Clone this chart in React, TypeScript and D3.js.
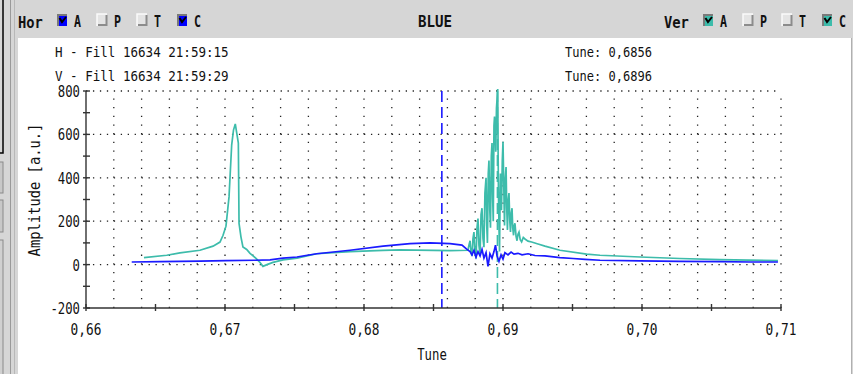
import * as d3 from "d3";

// tune / amplitude pairs
const hScan: [number, number][] = [
  [0.66329, 12], [0.66532, 14], [0.6682, 16], [0.67007, 18], [0.67216, 20],
  [0.67324, 22], [0.67417, 30], [0.67518, 35], [0.6766, 50], [0.67899, 66],
  [0.68137, 85], [0.68331, 97], [0.68475, 100], [0.68619, 97], [0.68705, 90],
  [0.68741, 70], [0.68763, 60], [0.68777, 45], [0.68791, 65], [0.68806, 35],
  [0.6882, 60], [0.68835, 40], [0.68849, 70], [0.68863, 30], [0.68878, 55],
  [0.68892, -8], [0.68906, 50], [0.68921, 30], [0.68935, 60], [0.68946, 90],
  [0.68957, 40], [0.68971, 15], [0.68986, 45], [0.69, 25], [0.69014, 55],
  [0.69036, 45], [0.69058, 58], [0.69079, 48], [0.69108, 52], [0.69137, 45],
  [0.6918, 50], [0.6923, 42], [0.69302, 40], [0.6941, 32], [0.69504, 28],
  [0.6959, 24], [0.69698, 20], [0.69986, 17], [0.70273, 15], [0.70561, 14],
  [0.70777, 12], [0.70978, 12],
];

const vScan: [number, number][] = [
  [0.66417, 32], [0.66581, 43], [0.66676, 54], [0.6682, 66], [0.66914, 85],
  [0.66964, 104], [0.66986, 135], [0.67007, 177], [0.67014, 220], [0.67029, 312],
  [0.67048, 551], [0.67061, 620], [0.67074, 648], [0.67086, 600], [0.67096, 560],
  [0.67101, 190], [0.67115, 127], [0.67129, 81], [0.67156, 70], [0.6718, 52],
  [0.67223, 29], [0.67252, 10], [0.67273, -8], [0.67302, 0], [0.67345, 10],
  [0.67417, 22], [0.67518, 30], [0.6766, 50], [0.67899, 60], [0.68137, 66],
  [0.68259, 68], [0.68619, 64], [0.68748, 66], [0.68755, 90], [0.68763, 110],
  [0.6877, 55], [0.68777, 40], [0.68784, 120], [0.68791, 150], [0.68798, 60],
  [0.68806, 28], [0.68813, 170], [0.6882, 212], [0.68827, 90], [0.68835, 45],
  [0.68842, 230], [0.68849, 260], [0.68856, 120], [0.68863, 80], [0.6887, 330],
  [0.68878, 400], [0.68883, 180], [0.68888, 100], [0.68894, 420], [0.68899, 480],
  [0.68905, 250], [0.6891, 170], [0.68916, 500], [0.68921, 560], [0.68926, 300],
  [0.6893, 200], [0.68935, 640], [0.68939, 682], [0.68944, 600], [0.68948, 520],
  [0.68953, 720], [0.68957, 760], [0.68962, 810], [0.68965, 500], [0.68968, 300],
  [0.68972, 150], [0.68975, 60], [0.68979, 300], [0.68982, 420], [0.68986, 330],
  [0.68989, 250], [0.68995, 480], [0.69, 566], [0.69006, 350], [0.69011, 180],
  [0.69017, 400], [0.69022, 450], [0.69027, 260], [0.69032, 160], [0.69038, 300],
  [0.69043, 330], [0.69049, 200], [0.69054, 150], [0.6906, 240], [0.69065, 260],
  [0.6907, 170], [0.69076, 135], [0.69081, 180], [0.69086, 190], [0.69094, 130],
  [0.69101, 110], [0.69108, 140], [0.69115, 150], [0.69124, 115], [0.69134, 105],
  [0.69146, 125], [0.69158, 118], [0.6918, 108], [0.69206, 104], [0.69252, 95],
  [0.69302, 85], [0.6941, 66], [0.69602, 48], [0.69698, 43], [0.69986, 35],
  [0.70273, 28], [0.70561, 23], [0.70978, 18],
];

const xTicks = [0.66, 0.67, 0.68, 0.69, 0.7, 0.71];
const xTickLabels = ["0,66", "0,67", "0,68", "0,69", "0,70", "0,71"];
const yTicks = [-200, 0, 200, 400, 600, 800];
const markers = [0.6856, 0.6896];
const headLeft = ["H - Fill 16634 21:59:15", "V - Fill 16634 21:59:29"];
const headRight = ["Tune: 0,6856", "Tune: 0,6896"];
const boxLetters = ["A", "P", "T", "C"];
const horChecked = [true, false, false, true];
const verChecked = [true, false, false, true];

const H_COL = "#1a1aff";
const V_COL = "#3dbcab";
const FONT = "'DejaVu Sans Mono', 'Liberation Mono', monospace";

function T({ x, y, s, w, size, anchor = "start", bold = false, transform }: any) {
  return (
    <text x={x} y={y} fontFamily={FONT} fontSize={size} textLength={s.length * w}
      lengthAdjust="spacingAndGlyphs" textAnchor={anchor} fontWeight={bold ? "bold" : "normal"}
      fill="#111" transform={transform}>{s}</text>
  );
}

function Box({ x, y, on, color }: any) {
  if (on) {
    return (
      <g>
        <rect x={x} y={y} width={10} height={12} fill="#7a7a7a" />
        <rect x={x + 2} y={y + 2} width={8} height={10} fill={color} />
        <path d={`M${x + 2.5},${y + 4} L${x + 5},${y + 8} L${x + 9},${y + 3}`} stroke="#000" strokeWidth={2} fill="none" />
      </g>
    );
  }
  return (
    <g>
      <rect x={x} y={y} width={10} height={12} fill="#e4e4e4" />
      <path d={`M${x},${y + 12} V${y} H${x + 10}`} stroke="#fafafa" strokeWidth={1.5} fill="none" />
      <path d={`M${x + 1},${y + 11} H${x + 9.5} V${y + 1}`} stroke="#8c8c8c" strokeWidth={2} fill="none" />
    </g>
  );
}

export default function App() {
  const xS = d3.scaleLinear().domain([0.66, 0.71]).range([86, 781]);
  const yS = d3.scaleLinear().domain([-200, 800]).range([308, 91]);
  const line = d3.line<[number, number]>().x((d) => xS(d[0])).y((d) => yS(d[1]));

  const vGrid = d3.range(1, 26).map((i) => 0.66 + i * 0.002);
  const hGrid = [0, 200, 400, 600, 800];
  const xMinor = d3.range(0, 11).map((i) => 0.66 + i * 0.005);
  const yMinor = d3.range(-200, 801, 100);
  const dotV = (yS(-200) - yS(-160)) - 1.3;
  const dotH = (xS(0.6605) - xS(0.66)) - 1.3;

  const horX = [57, 97, 137, 177];
  const verX = [703, 743, 782, 822];

  return (
    <svg width={853} height={374} style={{ position: "absolute", left: 0, top: 0 }}>
      <defs>
        <clipPath id="plot">
          <rect x={xS(0.66)} y={yS(800) - 2} width={xS(0.71) - xS(0.66)} height={yS(-200) - yS(800) + 2} />
        </clipPath>
      </defs>
      <rect width={853} height={374} fill="#d6d6d6" />
      {/* left side widgets */}
      <rect x={-3} y={-3} width={6} height={156} fill="#d6d6d6" stroke="#000" strokeWidth={1.5} />
      <rect x={-4} y={162} width={7} height={31} fill="#c8c8c8" stroke="#8a8a8a" />
      <rect x={-4} y={200} width={7} height={32} fill="#c8c8c8" stroke="#8a8a8a" />
      <rect x={-4} y={240} width={7} height={140} fill="#d0d0d0" stroke="#8a8a8a" />
      <line x1={10.5} x2={10.5} y1={0} y2={374} stroke="#9a9a9a" />
      <line x1={14.5} x2={14.5} y1={0} y2={374} stroke="#b8b8b8" />
      <rect x={18} y={38} width={833} height={340} fill="#fff" />
      <line x1={851.5} x2={851.5} y1={38} y2={374} stroke="#b0b0b0" />

      {/* top bar */}
      <T x={18} y={28} s="Hor" w={8.3} size={15} bold />
      {boxLetters.map((l, i) => (
        <g key={"h" + l}>
          <Box x={horX[i]} y={14} on={horChecked[i]} color="#0000ff" />
          <T x={horX[i] + 17} y={27} s={l} w={7} size={15} bold />
        </g>
      ))}
      <T x={435} y={27} s="BLUE" w={8.5} size={15} bold anchor="middle" />
      <T x={664} y={28} s="Ver" w={8.3} size={15} bold />
      {boxLetters.map((l, i) => (
        <g key={"v" + l}>
          <Box x={verX[i]} y={14} on={verChecked[i]} color={V_COL} />
          <T x={verX[i] + 17} y={27} s={l} w={7} size={15} bold />
        </g>
      ))}

      {/* header text */}
      {headLeft.map((s, i) => <T key={s} x={55} y={57 + i * 23.5} s={s} w={7.55} size={14} />)}
      {headRight.map((s, i) => <T key={s} x={565} y={57 + i * 23.5} s={s} w={7.25} size={14} />)}

      {/* grid */}
      {vGrid.map((t) => (
        <line key={"vg" + t} x1={xS(t)} x2={xS(t)} y1={yS(-200)} y2={yS(800)} stroke="#222"
          strokeWidth={1.3} strokeDasharray={`1.3 ${dotV}`} />
      ))}
      {hGrid.map((v) => (
        <line key={"hg" + v} x1={xS(0.66)} x2={xS(0.71)} y1={yS(v)} y2={yS(v)} stroke="#222"
          strokeWidth={1.3} strokeDasharray={`1.3 ${dotH}`} />
      ))}

      {/* markers */}
      <line x1={xS(markers[0])} x2={xS(markers[0])} y1={yS(800)} y2={yS(-200)} stroke={H_COL} strokeWidth={1.6} strokeDasharray="11 5" />
      <line x1={xS(markers[1])} x2={xS(markers[1])} y1={yS(800)} y2={yS(-200)} stroke={V_COL} strokeWidth={1.6} strokeDasharray="11 5" />

      {/* traces */}
      <g clipPath="url(#plot)">
        <path d={line(vScan) || ""} fill="none" stroke={V_COL} strokeWidth={1.7} />
        <path d={line(hScan) || ""} fill="none" stroke={H_COL} strokeWidth={1.7} />
      </g>

      {/* axes */}
      <line x1={xS(0.66)} x2={xS(0.71)} y1={yS(-200)} y2={yS(-200)} stroke="#333" strokeWidth={1.4} />
      <line x1={xS(0.66)} x2={xS(0.66)} y1={yS(-200)} y2={yS(800)} stroke="#333" strokeWidth={1.4} />
      {xMinor.map((t) => (
        <line key={"xt" + t} x1={xS(t)} x2={xS(t)} y1={yS(-200) - 4} y2={yS(-200) + 3} stroke="#333" strokeWidth={1.4} />
      ))}
      {yMinor.map((v) => (
        <line key={"yt" + v} x1={xS(0.66) - 3} x2={xS(0.66) + 4} y1={yS(v)} y2={yS(v)} stroke="#333" strokeWidth={1.4} />
      ))}
      {xTicks.map((t, i) => (
        <T key={"xl" + t} x={xS(t)} y={335} s={xTickLabels[i]} w={7.7} size={15} anchor="middle" />
      ))}
      {yTicks.map((v) => (
        <T key={"yl" + v} x={80} y={yS(v) + 6} s={String(v)} w={7.4} size={15} anchor="end" />
      ))}
      <T x={432} y={360} s="Tune" w={7.4} size={16} anchor="middle" />
      <T x={0} y={0} s="Amplitude [a.u.]" w={8.3} size={16} anchor="middle" transform="translate(40,190) rotate(-90)" />
    </svg>
  );
}
